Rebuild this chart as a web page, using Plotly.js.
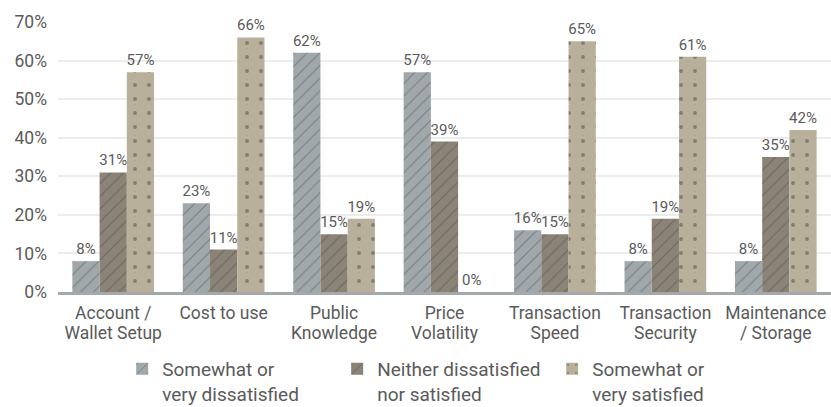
<!DOCTYPE html>
<html>
<head>
<meta charset="utf-8">
<script src="https://cdn.plot.ly/plotly-3.0.1.min.js"></script>
<style>
  html, body { margin: 0; padding: 0; background: #ffffff; }
  #chart { width: 831px; height: 407px; }
</style>
</head>
<body>
<div id="chart"></div>
<script>
(function () {
  "use strict";

  const categories = [
    "Account /<br>Wallet Setup",
    "Cost to use",
    "Public<br>Knowledge",
    "Price<br>Volatility",
    "Transaction<br>Speed",
    "Transaction<br>Security",
    "Maintenance<br>/ Storage"
  ];

  const dissatisfied = [8, 23, 62, 57, 16, 8, 8];
  const neutral = [31, 11, 15, 39, 15, 19, 35];
  const satisfied = [57, 66, 19, 0, 65, 61, 42];

  const seriesNames = [
    "Somewhat or<br>very dissatisfied",
    "Neither dissatisfied<br>nor satisfied",
    "Somewhat or<br>very satisfied"
  ];

  const yTicks = [0, 10, 20, 30, 40, 50, 60, 70];

  const TEXT = "#5a5a5a";
  const FONT = "Roboto, 'Noto Sans', sans-serif";

  function barTrace(name, values, color, pattern) {
    return {
      type: "bar",
      name: name,
      x: categories,
      y: values,
      text: values.map((v) => v + "%"),
      textposition: "outside",
      textfont: { family: FONT, size: 15, color: TEXT },
      constraintext: "none",
      cliponaxis: false,
      marker: { color: color, line: { width: 0 }, pattern: pattern },
      hoverinfo: "skip"
    };
  }

  const traces = [
    barTrace(seriesNames[0], dissatisfied, "#a1a8ac",
      { shape: "/", fgcolor: "#4e4e4e", size: 9, solidity: 0.12, fillmode: "overlay" }),
    barTrace(seriesNames[1], neutral, "#8a8376",
      { shape: "/", fgcolor: "#4a4a4a", size: 9, solidity: 0.12, fillmode: "overlay" }),
    barTrace(seriesNames[2], satisfied, "#b9b09b",
      { shape: ".", fgcolor: "#4a4a4a", size: 14, solidity: 0.06, fillmode: "overlay" })
  ];

  const layout = {
    width: 831,
    height: 407,
    paper_bgcolor: "#ffffff",
    plot_bgcolor: "#ffffff",
    margin: { l: 58, r: 0, t: 22, b: 115 },
    font: { family: FONT, color: TEXT },
    barmode: "group",
    bargap: 0.26,
    bargroupgap: 0,
    showlegend: true,
    legend: {
      orientation: "h",
      xref: "container",
      yref: "container",
      x: 0.147,
      xanchor: "left",
      y: 1 - 350 / 407,
      yanchor: "top",
      valign: "top",
      entrywidth: 170,
      font: { family: FONT, size: 19, color: TEXT },
      bgcolor: "rgba(0,0,0,0)"
    },
    xaxis: {
      showline: true,
      linecolor: "#a3a8ab",
      linewidth: 3,
      showgrid: false,
      ticks: "",
      ticklabelstandoff: 3,
      tickfont: { family: FONT, size: 17.5, color: TEXT },
      fixedrange: true
    },
    yaxis: {
      range: [0, 70],
      tickvals: yTicks,
      ticktext: yTicks.map((v) => v + "%"),
      showgrid: true,
      gridcolor: "#ececec",
      gridwidth: 2,
      zeroline: false,
      showline: false,
      ticks: "",
      ticklabelstandoff: 10,
      tickfont: { family: FONT, size: 17.5, color: TEXT },
      fixedrange: true
    }
  };

  // category labels sit tighter than plotly's default line spacing
  function tightenTickLines() {
    document.querySelectorAll("#chart .xtick text").forEach((t) => {
      t.querySelectorAll("tspan.line").forEach((line, i) => {
        line.setAttribute("dy", (i * 1.14) + "em");
      });
    });
  }

  Plotly.newPlot("chart", traces, layout, { displayModeBar: false, staticPlot: true })
    .then(tightenTickLines);
})();
</script>
</body>
</html>
